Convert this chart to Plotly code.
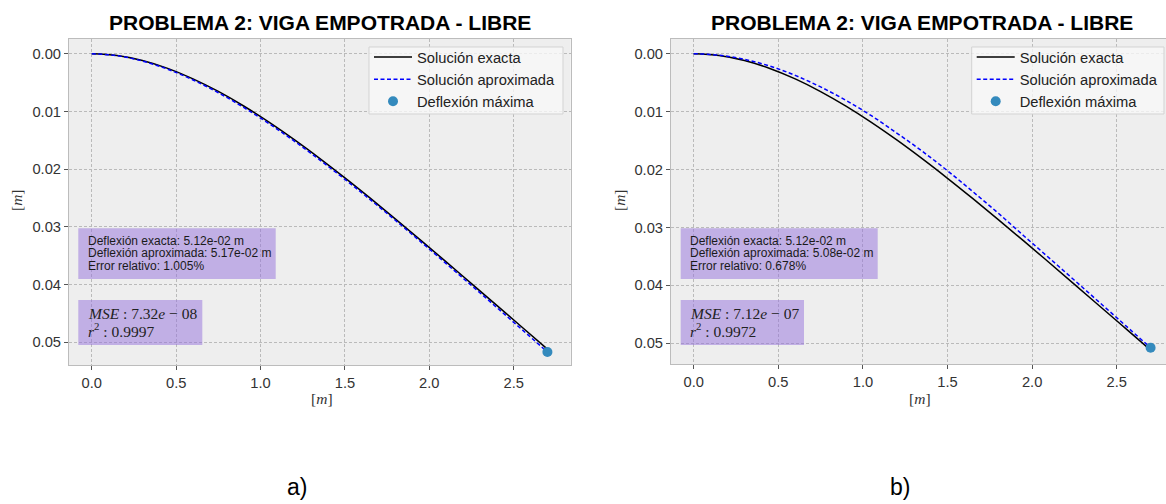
import plotly.graph_objects as go

# ---------------- data ----------------
x_vals = [0.0, 0.15, 0.30, 0.45, 0.60, 0.75, 0.90, 1.05, 1.20, 1.35,
          1.50, 1.65, 1.80, 1.95, 2.10, 2.25, 2.40, 2.55, 2.70]

exact_a = [0.0, 0.000304, 0.001173, 0.002542, 0.004349, 0.006540, 0.009060, 0.011862,
           0.014900, 0.018133, 0.021525, 0.025042, 0.028655, 0.032339, 0.036071,
           0.039835, 0.043617, 0.047408, 0.0512]
approx_a = [0.0, 0.000334, 0.001273, 0.002692, 0.004549, 0.006760, 0.009310, 0.012112,
            0.015150, 0.018383, 0.021775, 0.025292, 0.028905, 0.032609, 0.036371,
            0.040165, 0.043987, 0.047828, 0.0517]

exact_b = [0.0, 0.000304, 0.001173, 0.002542, 0.004349, 0.006540, 0.009060, 0.011862,
           0.014900, 0.018133, 0.021525, 0.025042, 0.028655, 0.032339, 0.036071,
           0.039835, 0.043617, 0.047408, 0.0512]
approx_b = [0.0, 0.000254, 0.000973, 0.002142, 0.003749, 0.005740, 0.008060, 0.010712,
            0.013700, 0.016833, 0.020225, 0.023842, 0.027555, 0.031439, 0.035271,
            0.039135, 0.043017, 0.046908, 0.0508]

max_x_a, max_y_a = [2.70], [0.0517]
max_x_b, max_y_b = [2.70], [0.0508]

x_ticks = [0.0, 0.5, 1.0, 1.5, 2.0, 2.5]
y_ticks = [0.00, 0.01, 0.02, 0.03, 0.04, 0.05]

title_text = "PROBLEMA 2: VIGA EMPOTRADA - LIBRE"
names = ["Solución exacta", "Solución aproximada", "Deflexión máxima"]
info_a = ["Deflexión exacta: 5.12e-02 m", "Deflexión aproximada: 5.17e-02 m", "Error relativo: 1.005%"]
info_b = ["Deflexión exacta: 5.12e-02 m", "Deflexión aproximada: 5.08e-02 m", "Error relativo: 0.678%"]
stats_a = ["<i>MSE</i> : 7.32<i>e</i> − 08", "<i>r</i><sup>2</sup> : 0.9997"]
stats_b = ["<i>MSE</i> : 7.12<i>e</i> − 07", "<i>r</i><sup>2</sup> : 0.9972"]
captions = ["a)", "b)"]

# ---------------- styling ----------------
W, H = 1166, 504
SANS = "Liberation Sans, Arial, sans-serif"
SERIF = "Liberation Serif, DejaVu Serif, serif"
BG = "#eeeeee"
GRID = "#bababa"
EDGE = "#bcbcbc"
PURPLE = "rgba(147,112,219,0.5)"
MARK = "#348ABD"

def px(xp):
    return xp / W

def py(yp):
    return 1 - yp / H

fig = go.Figure()

panels = [
    dict(xa="x", ya="y", leg="legend", ex=exact_a, ap=approx_a, mx=max_x_a, my=max_y_a),
    dict(xa="x2", ya="y2", leg="legend2", ex=exact_b, ap=approx_b, mx=max_x_b, my=max_y_b),
]
for p in panels:
    fig.add_trace(go.Scatter(x=x_vals, y=p["ex"], mode="lines", name=names[0],
                             line=dict(color="black", width=1.5, shape="spline"),
                             xaxis=p["xa"], yaxis=p["ya"], legend=p["leg"]))
    fig.add_trace(go.Scatter(x=x_vals, y=p["ap"], mode="lines", name=names[1],
                             line=dict(color="#0000ff", width=1.5, dash="4px,2.5px", shape="spline"),
                             xaxis=p["xa"], yaxis=p["ya"], legend=p["leg"]))
    fig.add_trace(go.Scatter(x=p["mx"], y=p["my"], mode="markers", name=names[2],
                             marker=dict(color=MARK, size=10),
                             xaxis=p["xa"], yaxis=p["ya"], legend=p["leg"]))

axis_common = dict(showgrid=True, gridcolor=GRID, gridwidth=0.7, griddash="3px,2px",
                   zeroline=False, showline=True, linecolor=EDGE, linewidth=1,
                   ticks="outside", ticklen=4, tickwidth=1, tickcolor="#555555",
                   tickfont=dict(family=SANS, size=14.7, color="#333333"))

# pixel geometry of the plotting areas
L1, R1, T1, B1 = 69, 570.7, 39, 365
L2, R2, T2, B2 = 671, 1166, 39, 364

leg_common = dict(xanchor="left", yanchor="top", bgcolor="rgba(0,0,0,0)", borderwidth=0,
                  font=dict(family=SANS, size=14.7, color="#222222"), tracegroupgap=0,
                  itemwidth=38)

fig.update_layout(
    width=W, height=H, margin=dict(l=0, r=0, t=0, b=0),
    paper_bgcolor="white", plot_bgcolor=BG, showlegend=True,
    xaxis=dict(axis_common, domain=[px(L1), px(R1)], range=[-0.135, 2.838], anchor="y",
               tickvals=x_ticks, tickformat=".1f", mirror=True),
    yaxis=dict(axis_common, domain=[py(B1), py(T1)], range=[0.05395, -0.00255], anchor="x",
               tickvals=y_ticks, tickformat=".2f", mirror=True),
    xaxis2=dict(axis_common, domain=[px(L2), 1.0], range=[-0.134, 2.791], anchor="y2",
                tickvals=x_ticks, tickformat=".1f", mirror=True),
    yaxis2=dict(axis_common, domain=[py(B2), py(T2)], range=[0.0536, -0.00254], anchor="x2",
                tickvals=y_ticks, tickformat=".2f", mirror=False),
    legend=dict(leg_common, x=px(369), y=py(41)),
    legend2=dict(leg_common, x=px(971.7), y=py(41)),
)

shapes = []
annots = []

# legend frames
for (x0, x1) in [(369, 563), (971.7, 1164)]:
    shapes.append(dict(type="rect", xref="paper", yref="paper",
                       x0=px(x0), x1=px(x1), y0=py(114), y1=py(47),
                       fillcolor="rgba(248,248,248,0.8)", line=dict(color="#d3d3d3", width=1),
                       layer="above"))

# titles
for cx in [(L1 + R1) / 2, 922]:
    annots.append(dict(x=px(cx), y=py(23), xref="paper", yref="paper", text="<b>%s</b>" % title_text,
                       showarrow=False, xanchor="center", yanchor="middle",
                       font=dict(family=SANS, size=21, color="black")))

# info boxes
boxes = [
    dict(b1=(78.3, 228.3, 275.7, 279), b2=(78.3, 300, 202.3, 345), tx=86, info=info_a, st=stats_a),
    dict(b1=(680.7, 228.3, 877.7, 279), b2=(680.7, 300, 804, 345), tx=688, info=info_b, st=stats_b),
]
for b in boxes:
    for (x0, y0, x1, y1) in [b["b1"], b["b2"]]:
        shapes.append(dict(type="rect", xref="paper", yref="paper",
                           x0=px(x0), x1=px(x1), y0=py(y1), y1=py(y0),
                           fillcolor=PURPLE, line=dict(width=0), layer="above"))
    for i, t in enumerate(b["info"]):
        annots.append(dict(x=px(b["tx"]), y=py(240.5 + 12.7 * i), xref="paper", yref="paper",
                           text=t, showarrow=False, xanchor="left", yanchor="middle",
                           font=dict(family=SANS, size=12, color="#1a1a1a")))
    for i, t in enumerate(b["st"]):
        annots.append(dict(x=px(b["tx"]), y=py(313 + 16.5 * i), xref="paper", yref="paper",
                           text=t, showarrow=False, xanchor="left", yanchor="middle",
                           font=dict(family=SERIF, size=15.5, color="#222222")))

# axis labels
for (lx, ly, ang) in [(17, 200, -90), (620, 200, -90), (322, 398, 0), (920, 398, 0)]:
    annots.append(dict(x=px(lx), y=py(ly), xref="paper", yref="paper", text="[<i>m</i>]",
                       showarrow=False, xanchor="center", yanchor="middle", textangle=ang,
                       font=dict(family=SERIF, size=15.5, color="#333333")))

# captions
for cap, cx in zip(captions, [297, 900]):
    annots.append(dict(x=px(cx), y=py(487), xref="paper", yref="paper", text=cap,
                       showarrow=False, xanchor="center", yanchor="middle",
                       font=dict(family=SANS, size=23, color="black")))

fig.update_layout(shapes=shapes, annotations=annots)
fig.write_html("out.html", config={"displayModeBar": False},
               post_script="document.body.style.margin='0';document.body.style.overflow='hidden';")
